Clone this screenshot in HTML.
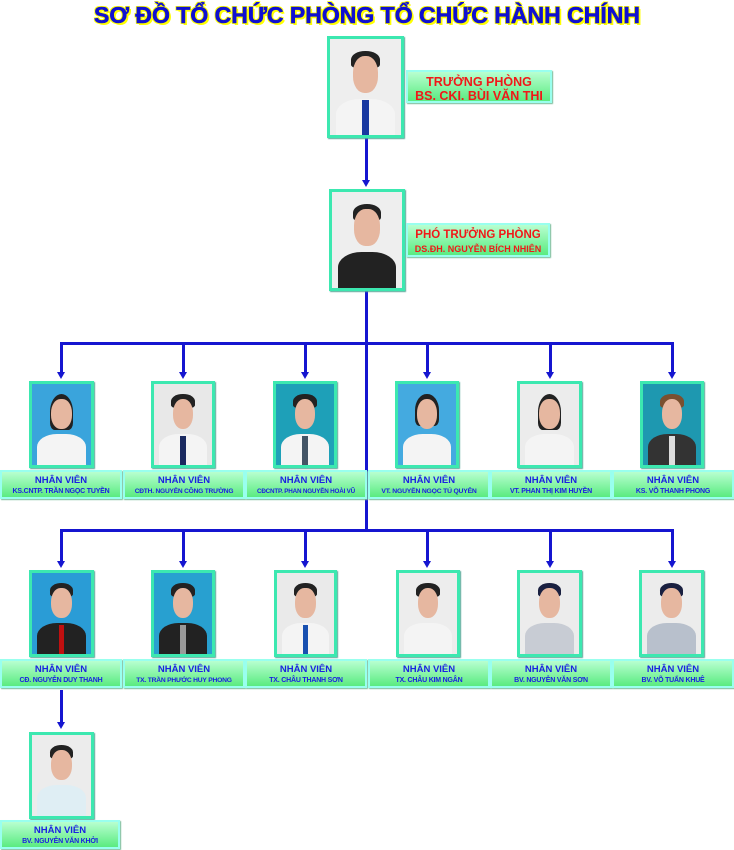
<!DOCTYPE html>
<html><head><meta charset="utf-8"><style>
body{margin:0;width:734px;height:850px;background:#fff;position:relative;overflow:hidden;font-family:"Liberation Sans",sans-serif}
.a{position:absolute}
.t{left:0;width:734px;top:2px;text-align:center;font-weight:bold;font-size:23px;color:#1010d0;-webkit-text-stroke:0.6px #1010d0;text-shadow:1px 1px 0 #ff0,-1px -1px 0 #ff0,1px -1px 0 #ff0,-1px 1px 0 #ff0,2px 2px 0 #ff0}
.ph{position:absolute;border:3px solid #3ce8b0;box-sizing:border-box;overflow:hidden;box-shadow:1px 1px 1px #5a9}
.ph .hair{position:absolute;left:30%;width:40%;top:12%;height:18%;background:#222;border-radius:50% 50% 20% 20%}
.ph .face{position:absolute;left:32%;width:36%;top:18%;height:38%;background:#e6b7a0;border-radius:45%}
.ph .sh{position:absolute;left:8%;width:84%;top:62%;height:40%;background:#f4f4f4;border-radius:40% 40% 0 0}
.ph .tie{position:absolute;left:45%;width:10%;top:64%;height:36%;background:#1a2a60}
.lb{position:absolute;height:29px;box-sizing:border-box;background:linear-gradient(#b8ffd0,#5aeb80);border:2px solid #9fe;box-shadow:1px 1px 1px #7b9;text-align:center;color:#1a22e0;font-weight:bold;font-size:7px;line-height:11px;padding-top:3px;white-space:nowrap;overflow:hidden;letter-spacing:-0.2px}
.lb b{font-size:9.5px;display:block;letter-spacing:0}
.big{color:#f01818;font-size:12.5px;line-height:14px;padding-top:3px;letter-spacing:0}
.v{position:absolute;width:3px;background:#1515d0}
.h{position:absolute;height:3px;background:#1515d0}
.ar{position:absolute;width:0;height:0;border-left:4px solid transparent;border-right:4px solid transparent;border-top:7px solid #1515d0}
</style></head><body>
<div class="a t">SƠ ĐỒ TỔ CHỨC PHÒNG TỔ CHỨC HÀNH CHÍNH</div>

<div class="v" style="left:365px;top:137px;height:43px"></div><div class="ar" style="left:362px;top:180px"></div>
<div class="v" style="left:365px;top:290px;height:240px"></div>
<div class="h" style="left:60px;top:342px;width:614px"></div>
<div class="h" style="left:60px;top:529px;width:614px"></div>
<div class="v" style="left:60px;top:342px;height:31px"></div><div class="ar" style="left:57px;top:372px"></div>
<div class="v" style="left:182px;top:342px;height:31px"></div><div class="ar" style="left:179px;top:372px"></div>
<div class="v" style="left:304px;top:342px;height:31px"></div><div class="ar" style="left:301px;top:372px"></div>
<div class="v" style="left:426px;top:342px;height:31px"></div><div class="ar" style="left:423px;top:372px"></div>
<div class="v" style="left:549px;top:342px;height:31px"></div><div class="ar" style="left:546px;top:372px"></div>
<div class="v" style="left:671px;top:342px;height:31px"></div><div class="ar" style="left:668px;top:372px"></div>
<div class="v" style="left:60px;top:529px;height:32px"></div><div class="ar" style="left:57px;top:561px"></div>
<div class="v" style="left:182px;top:529px;height:32px"></div><div class="ar" style="left:179px;top:561px"></div>
<div class="v" style="left:304px;top:529px;height:32px"></div><div class="ar" style="left:301px;top:561px"></div>
<div class="v" style="left:426px;top:529px;height:32px"></div><div class="ar" style="left:423px;top:561px"></div>
<div class="v" style="left:549px;top:529px;height:32px"></div><div class="ar" style="left:546px;top:561px"></div>
<div class="v" style="left:671px;top:529px;height:32px"></div><div class="ar" style="left:668px;top:561px"></div>
<div class="v" style="left:60px;top:690px;height:32px"></div><div class="ar" style="left:57px;top:722px"></div>

<div class="ph" style="left:327px;top:36px;width:77px;height:102px;background:#eee"><div class="hair"></div><div class="face"></div><div class="sh"></div><div class="tie" style="background:#1838a0"></div></div>
<div class="lb big" style="left:406px;top:70px;width:146px;height:33px">TRƯỞNG PHÒNG<br>BS. CKI. BÙI VĂN THI</div>
<div class="ph" style="left:329px;top:189px;width:76px;height:102px;background:#eee"><div class="hair"></div><div class="face"></div><div class="sh" style="background:#222"></div></div>
<div class="lb big" style="left:406px;top:223px;width:144px;height:34px;font-size:11.5px">PHÓ TRƯỞNG PHÒNG<br><span style="font-size:9px">DS.ĐH. NGUYỄN BÍCH NHIÊN</span></div>

<div class="ph" style="left:29px;top:381px;width:65px;height:87px;background:#3aa4dc"><div class="hair" style="height:45%"></div><div class="face"></div><div class="sh"></div></div>
<div class="ph" style="left:151px;top:381px;width:64px;height:87px;background:#e8e8e8"><div class="hair"></div><div class="face"></div><div class="sh"></div><div class="tie"></div></div>
<div class="ph" style="left:273px;top:381px;width:64px;height:87px;background:#1ea0b8"><div class="hair"></div><div class="face"></div><div class="sh"></div><div class="tie" style="background:#456"></div></div>
<div class="ph" style="left:395px;top:381px;width:64px;height:87px;background:#44aae0"><div class="hair" style="height:40%"></div><div class="face"></div><div class="sh"></div></div>
<div class="ph" style="left:517px;top:381px;width:65px;height:87px;background:#ececec"><div class="hair" style="height:45%"></div><div class="face"></div><div class="sh"></div></div>
<div class="ph" style="left:640px;top:381px;width:64px;height:87px;background:#1e98b0"><div class="hair" style="background:#7a5030"></div><div class="face"></div><div class="sh" style="background:#333"></div><div class="tie" style="background:#ddd"></div></div>

<div class="lb" style="left:0;top:470px;width:122px"><b>NHÂN VIÊN</b>KS.CNTP. TRẦN NGỌC TUYỀN</div>
<div class="lb" style="left:123px;top:470px;width:122px;font-size:6.6px"><b>NHÂN VIÊN</b>CĐTH. NGUYỄN CÔNG TRƯỜNG</div>
<div class="lb" style="left:245px;top:470px;width:122px;font-size:6.3px"><b>NHÂN VIÊN</b>CĐCNTP. PHAN NGUYỄN HOÀI VŨ</div>
<div class="lb" style="left:368px;top:470px;width:122px;font-size:6.8px"><b>NHÂN VIÊN</b>VT. NGUYỄN NGỌC TÚ QUYÊN</div>
<div class="lb" style="left:490px;top:470px;width:122px"><b>NHÂN VIÊN</b>VT. PHAN THỊ KIM HUYỀN</div>
<div class="lb" style="left:612px;top:470px;width:122px"><b>NHÂN VIÊN</b>KS. VÕ THANH PHONG</div>

<div class="ph" style="left:29px;top:570px;width:65px;height:87px;background:#2a9cd6"><div class="hair"></div><div class="face"></div><div class="sh" style="background:#222"></div><div class="tie" style="background:#c01010"></div></div>
<div class="ph" style="left:151px;top:570px;width:64px;height:87px;background:#28a0d0"><div class="hair"></div><div class="face"></div><div class="sh" style="background:#222"></div><div class="tie" style="background:#999"></div></div>
<div class="ph" style="left:274px;top:570px;width:63px;height:87px;background:#eaeaea"><div class="hair"></div><div class="face"></div><div class="sh"></div><div class="tie" style="background:#1850b0"></div></div>
<div class="ph" style="left:396px;top:570px;width:64px;height:87px;background:#ededed"><div class="hair"></div><div class="face"></div><div class="sh"></div></div>
<div class="ph" style="left:517px;top:570px;width:65px;height:87px;background:#ececec"><div class="hair" style="background:#1a2040"></div><div class="face"></div><div class="sh" style="background:#c8ccd4"></div></div>
<div class="ph" style="left:639px;top:570px;width:65px;height:87px;background:#ececec"><div class="hair" style="background:#1a2040"></div><div class="face"></div><div class="sh" style="background:#b8c0cc"></div></div>

<div class="lb" style="left:0;top:659px;width:122px"><b>NHÂN VIÊN</b>CĐ. NGUYỄN DUY THANH</div>
<div class="lb" style="left:123px;top:659px;width:122px;font-size:6.7px"><b>NHÂN VIÊN</b>TX. TRẦN PHƯỚC HUY PHONG</div>
<div class="lb" style="left:245px;top:659px;width:122px"><b>NHÂN VIÊN</b>TX. CHÂU THANH SƠN</div>
<div class="lb" style="left:368px;top:659px;width:122px"><b>NHÂN VIÊN</b>TX. CHÂU KIM NGÂN</div>
<div class="lb" style="left:490px;top:659px;width:122px"><b>NHÂN VIÊN</b>BV. NGUYỄN VĂN SƠN</div>
<div class="lb" style="left:612px;top:659px;width:122px"><b>NHÂN VIÊN</b>BV. VÕ TUẤN KHUÊ</div>

<div class="ph" style="left:29px;top:732px;width:65px;height:87px;background:#ececec"><div class="hair"></div><div class="face"></div><div class="sh" style="background:#dfeef4"></div></div>
<div class="lb" style="left:0;top:820px;width:120px"><b>NHÂN VIÊN</b>BV. NGUYỄN VĂN KHỞI</div>
</body></html>
